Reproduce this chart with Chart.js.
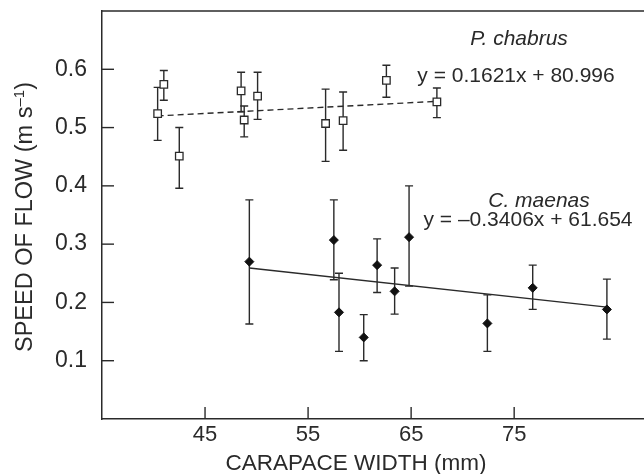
<!DOCTYPE html>
<html>
<head>
<meta charset="utf-8">
<script src="https://cdn.jsdelivr.net/npm/chart.js@4/dist/chart.umd.min.js"></script>
<style>
  html, body { margin: 0; padding: 0; background: #fff; overflow: hidden; }
  #wrap { width: 644px; height: 474px; }
  canvas { display: block; }
</style>
</head>
<body>
<div id="wrap"><canvas id="flowChart" width="644" height="474"></canvas></div>
<script>
// P. chabrus (open squares)
const chabrusWidth = [40.4, 41.0, 42.5, 48.5, 48.8, 50.1, 56.7, 58.4, 62.6, 67.5];
const chabrusSpeed = [0.524, 0.574, 0.451, 0.563, 0.513, 0.554, 0.507, 0.512, 0.581, 0.544];
const chabrusHigh = [0.569, 0.598, 0.500, 0.595, 0.537, 0.595, 0.566, 0.561, 0.607, 0.568];
const chabrusLow = [0.478, 0.547, 0.396, 0.527, 0.484, 0.514, 0.442, 0.461, 0.552, 0.517];

// C. maenas (filled diamonds)
const maenasWidth = [49.3, 57.5, 58.0, 60.4, 61.7, 63.4, 64.8, 72.4, 76.8, 84.0];
const maenasSpeed = [0.270, 0.307, 0.183, 0.140, 0.264, 0.219, 0.312, 0.164, 0.225, 0.188];
const maenasHigh = [0.376, 0.376, 0.250, 0.179, 0.309, 0.259, 0.400, 0.213, 0.264, 0.240];
const maenasLow = [0.163, 0.239, 0.116, 0.100, 0.217, 0.180, 0.228, 0.116, 0.188, 0.137];

// fitted lines (end points)
const chabrusFitX = [40.4, 67.5];
const chabrusFitY = [0.520, 0.545];
const maenasFitX = [49.3, 84.0];
const maenasFitY = [0.259, 0.192];

// tick labels
const xTicks = [45, 55, 65, 75];
const yTicks = [0.1, 0.2, 0.3, 0.4, 0.5, 0.6];

const ink = '#2a2a2a';
const font = '"Liberation Sans", Arial, Helvetica, sans-serif';

function toPoints(xs, ys) {
    return xs.map((x, i) => ({ x: x, y: ys[i] }));
}

// no extra room for the end labels, the frame sits where the layout puts it
function noPadding(s) {
    s.paddingTop = 0;
    s.paddingBottom = 0;
    s.paddingLeft = 0;
    s.paddingRight = 0;
}

// error bars, inward tick marks and the top frame line
const errorBars = {
    id: 'errorBars',
    beforeDatasetsDraw(chart) {
        const c = chart.ctx;
        const sx = chart.scales.x, sy = chart.scales.y;
        const area = chart.chartArea;
        c.save();
        c.strokeStyle = ink;
        c.lineWidth = 1.4;

        // inward ticks
        yTicks.forEach(v => {
            const py = sy.getPixelForValue(v);
            c.beginPath(); c.moveTo(area.left, py); c.lineTo(area.left + 12, py); c.stroke();
        });
        xTicks.forEach(v => {
            const px = sx.getPixelForValue(v);
            c.beginPath(); c.moveTo(px, area.bottom); c.lineTo(px, area.bottom - 12); c.stroke();
        });

        // top line
        c.beginPath(); c.moveTo(area.left, area.top); c.lineTo(area.right, area.top); c.stroke();

        const groups = [
            [chabrusWidth, chabrusLow, chabrusHigh],
            [maenasWidth, maenasLow, maenasHigh]
        ];
        groups.forEach(([w, lo, hi]) => {
            w.forEach((v, i) => {
                const px = sx.getPixelForValue(v);
                const y1 = sy.getPixelForValue(lo[i]);
                const y2 = sy.getPixelForValue(hi[i]);
                c.beginPath();
                c.moveTo(px, y1); c.lineTo(px, y2);
                c.moveTo(px - 4, y1); c.lineTo(px + 4, y1);
                c.moveTo(px - 4, y2); c.lineTo(px + 4, y2);
                c.stroke();
            });
        });
        c.restore();
    },
    afterDraw(chart) {
        const c = chart.ctx;
        c.save();
        c.fillStyle = ink;
        c.textAlign = 'center';
        c.textBaseline = 'alphabetic';

        // species labels and equations
        c.font = 'italic 21px ' + font;
        c.fillText('P. chabrus', 519, 45);
        c.fillText('C. maenas', 539, 207);
        c.font = '21px ' + font;
        c.fillText('y = 0.1621x + 80.996', 516, 82);
        c.fillText('y = \u20130.3406x + 61.654', 528, 226);

        // axis titles
        c.font = '22.5px ' + font;
        c.fillText('CARAPACE WIDTH (mm)', 356, 470);

        c.translate(32, 217);
        c.rotate(-Math.PI / 2);
        const main = 'SPEED OF FLOW (m s';
        const sup = '\u20131';
        const close = ')';
        c.font = '23.5px ' + font;
        const w1 = c.measureText(main).width;
        const w3 = c.measureText(close).width;
        c.font = '15px ' + font;
        const w2 = c.measureText(sup).width;
        let x0 = -(w1 + w2 + w3) / 2;
        c.textAlign = 'left';
        c.font = '23.5px ' + font;
        c.fillText(main, x0, 0);
        c.font = '15px ' + font;
        c.fillText(sup, x0 + w1, -8);
        c.font = '23.5px ' + font;
        c.fillText(close, x0 + w1 + w2, 0);
        c.restore();
    }
};

const ctx = document.getElementById('flowChart').getContext('2d');
new Chart(ctx, {
    type: 'scatter',
    data: {
        datasets: [
            {
                label: 'P. chabrus',
                data: toPoints(chabrusWidth, chabrusSpeed),
                pointStyle: 'rect',
                pointRadius: 5.3,
                pointBackgroundColor: '#fff',
                pointBorderColor: ink,
                pointBorderWidth: 1.3
            },
            {
                label: 'C. maenas',
                data: toPoints(maenasWidth, maenasSpeed),
                pointStyle: 'rectRot',
                pointRadius: 4.5,
                pointBackgroundColor: '#111',
                pointBorderColor: '#111',
                pointBorderWidth: 1
            },
            {
                type: 'line',
                label: 'P. chabrus fit',
                data: toPoints(chabrusFitX, chabrusFitY),
                borderColor: ink,
                borderWidth: 1.4,
                borderDash: [6, 4],
                pointRadius: 0,
                fill: false
            },
            {
                type: 'line',
                label: 'C. maenas fit',
                data: toPoints(maenasFitX, maenasFitY),
                borderColor: ink,
                borderWidth: 1.4,
                pointRadius: 0,
                fill: false
            }
        ]
    },
    options: {
        responsive: false,
        animation: false,
        layout: { autoPadding: false, padding: { top: 11, right: 0, left: 0, bottom: 0 } },
        plugins: {
            legend: { display: false },
            tooltip: { enabled: false }
        },
        scales: {
            x: {
                type: 'linear',
                min: 35,
                max: 87.6,
                afterBuildTicks: (s) => { s.ticks = xTicks.map(v => ({ value: v })); },
                afterFit: (s) => { s.height = 55; noPadding(s); },
                grid: { display: false, drawTicks: false },
                border: { display: true, color: ink, width: 1.5 },
                ticks: { color: ink, font: { family: font, size: 22 }, padding: 3, maxRotation: 0 }
            },
            y: {
                type: 'linear',
                min: 0,
                max: 0.7,
                afterBuildTicks: (s) => { s.ticks = yTicks.map(v => ({ value: v })); },
                afterFit: (s) => { s.width = 102; noPadding(s); },
                grid: { display: false, drawTicks: false },
                border: { display: true, color: ink, width: 1.5 },
                ticks: {
                    color: ink,
                    font: { family: font, size: 23 },
                    padding: 15,
                    callback: (v) => v.toFixed(1)
                }
            }
        }
    },
    plugins: [errorBars]
});
</script>
</body>
</html>
